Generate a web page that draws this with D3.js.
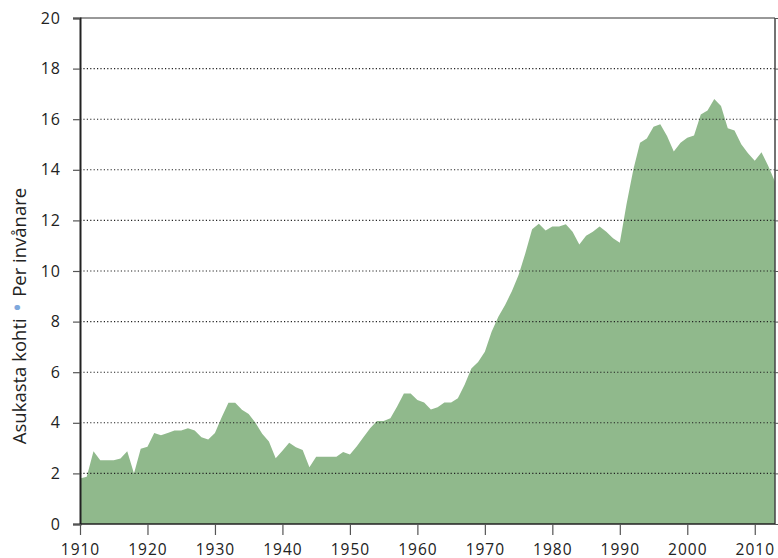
<!DOCTYPE html>
<html>
<head>
<meta charset="utf-8">
<script src="https://cdn.jsdelivr.net/npm/d3@7"></script>
<style>
  html, body { margin: 0; padding: 0; background: #fff; }
  svg { display: block; }
  text { font-family: "Open Sans", "DejaVu Sans", sans-serif; fill: #222; }
</style>
</head>
<body>
<svg id="chart" width="778" height="558"></svg>
<script>
// Years 1910..2013
const years = d3.range(1910, 2014);
const values = [
  1.80, 1.87, 2.88, 2.52, 2.52, 2.52, 2.59, 2.88, 2.00, 2.97, // 1910-1919
  3.05, 3.60, 3.51, 3.60, 3.70, 3.70, 3.78, 3.70, 3.43, 3.34, // 1920-1929
  3.60, 4.22, 4.79, 4.79, 4.52, 4.35, 4.00, 3.57, 3.26, 2.60, // 1930-1939
  2.90, 3.21, 3.03, 2.92, 2.24, 2.66, 2.66, 2.66, 2.66, 2.85, // 1940-1949
  2.75, 3.06, 3.43, 3.78, 4.07, 4.07, 4.18, 4.64, 5.16, 5.16, // 1950-1959
  4.90, 4.80, 4.53, 4.61, 4.80, 4.80, 4.97, 5.50, 6.15, 6.40, // 1960-1969
  6.81, 7.60, 8.19, 8.66, 9.20, 9.84, 10.70, 11.65, 11.87, 11.60, // 1970-1979
  11.76, 11.76, 11.85, 11.55, 11.05, 11.39, 11.55, 11.76, 11.55, 11.29, // 1980-1989
  11.12, 12.65, 14.00, 15.07, 15.24, 15.70, 15.80, 15.34, 14.72, 15.07, // 1990-1999
  15.27, 15.36, 16.19, 16.34, 16.80, 16.52, 15.64, 15.55, 15.01, 14.65, // 2000-2009
  14.36, 14.69, 14.15, 13.53 // 2010-2013
];
const yTicks = [0, 2, 4, 6, 8, 10, 12, 14, 16, 18, 20];
const xTicks = [1910, 1920, 1930, 1940, 1950, 1960, 1970, 1980, 1990, 2000, 2010];
const titleMain = "Asukasta kohti";
const titleSep = " \u2022 ";
const titleSecond = "Per invånare";

const data = years.map((y, i) => ({ year: y, value: values[i] }));

const svg = d3.select("#chart");
const L = 80, R = 775, T = 18, B = 524;

const x = d3.scaleLinear().domain([1910, 2013]).range([L, R]);
const y = d3.scaleLinear().domain([0, 20]).range([B, T]);

// area
const area = d3.area()
  .x(d => x(d.year))
  .y0(y(0))
  .y1(d => y(d.value));
svg.append("path")
  .datum(data)
  .attr("d", area)
  .attr("fill", "#90b98c");

// gridlines
svg.append("g")
  .selectAll("line")
  .data(yTicks.filter(v => v > 0 && v < 20))
  .join("line")
  .attr("x1", L)
  .attr("x2", R)
  .attr("y1", d => y(d))
  .attr("y2", d => y(d))
  .attr("stroke", "#222")
  .attr("stroke-width", 1.1)
  .attr("stroke-dasharray", "1.2,2.2");

// top & right frame
svg.append("line").attr("x1", L).attr("x2", R).attr("y1", T).attr("y2", T)
  .attr("stroke", "#333").attr("stroke-width", 1);
svg.append("line").attr("x1", R).attr("x2", R).attr("y1", T).attr("y2", B)
  .attr("stroke", "#444").attr("stroke-width", 1.5);

// left axis
const yAxis = d3.axisLeft(y).tickValues(yTicks).tickSize(7).tickPadding(12).tickFormat(d3.format("d"));
const gy = svg.append("g").attr("transform", `translate(${L},0)`).call(yAxis);
gy.select(".domain").attr("stroke", "#222").attr("stroke-width", 2);
gy.selectAll(".tick line").attr("stroke", "#555").attr("stroke-width", 1.2);
gy.selectAll(".tick text").style("font-size", "16px").style("letter-spacing", "1px").attr("fill", "#222");

// right ticks
const yAxisR = d3.axisRight(y).tickValues(yTicks).tickSize(5).tickFormat("");
const gyr = svg.append("g").attr("transform", `translate(${R},0)`).call(yAxisR);
gyr.select(".domain").remove();
gyr.selectAll(".tick line").attr("stroke", "#555");

// bottom axis
const xAxis = d3.axisBottom(x).tickValues(xTicks).tickSize(11).tickPadding(9).tickFormat(d3.format("d"));
const gx = svg.append("g").attr("transform", `translate(0,${B})`).call(xAxis);
gx.select(".domain").attr("stroke", "#222").attr("stroke-width", 1.5).attr("d", `M${L},0H${R}`);
gx.selectAll(".tick line").attr("stroke", "#555").attr("stroke-width", 1.2);
gx.selectAll(".tick text").style("font-size", "15.5px").style("letter-spacing", "1px").attr("fill", "#222");

// y title
const t = svg.append("text")
  .attr("transform", `translate(26,316) rotate(-90)`)
  .attr("text-anchor", "middle")
  .style("font-size", "18.5px");
t.append("tspan").text(titleMain);
t.append("tspan").text(titleSep).style("fill", "#7fa8dc").style("font-size", "24px");
t.append("tspan").text(titleSecond);
</script>
</body>
</html>
